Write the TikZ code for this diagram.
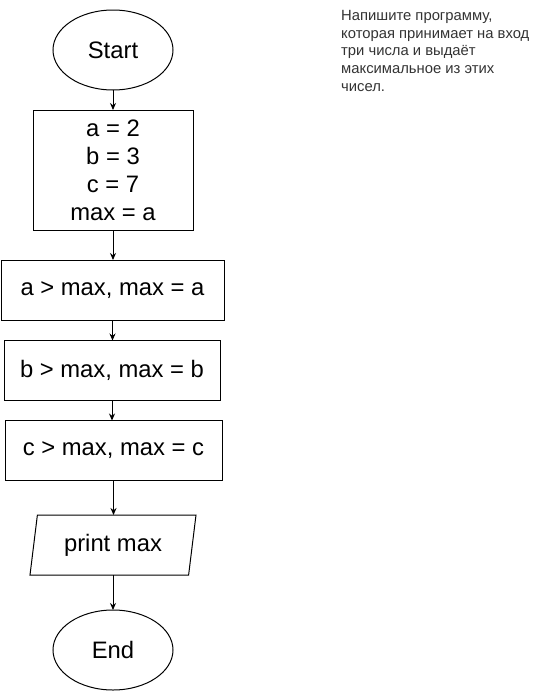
\documentclass[tikz,border=0pt]{standalone}
\usepackage{fontspec}
\setmainfont{Liberation Sans}
\usetikzlibrary{shapes.geometric,arrows.meta}
\definecolor{notegray}{RGB}{51,51,51}
\tikzset{
  blok/.style={draw,line width=1pt,inner sep=0pt,outer sep=0pt,align=center,font=\fontsize{23.8}{28}\selectfont},
  oval/.style={blok,ellipse,minimum width=120pt,minimum height=80pt},
  caixa/.style={blok,rectangle,minimum height=60pt},
  saida/.style={blok,trapezium,trapezium left angle=71.57,trapezium right angle=108.43,
    trapezium stretches body,minimum width=166pt,minimum height=60pt},
  seta/.style={line width=1pt,-{Stealth[length=7pt,width=6pt]}}
}
\begin{document}
\begin{tikzpicture}[x=1pt,y=-1pt]
\useasboundingbox (0,0) rectangle (539,691);
% blocos
\node[oval] (inicio) at(113,50) {Start};
\node[caixa,minimum width=160pt,minimum height=120pt] (vars) at(113,170) {a = 2\\b = 3\\c = 7\\max = a};
\node[caixa,minimum width=223pt] (maxa) at(112.5,290) {a > max, max = a};
\node[caixa,minimum width=216pt] (maxb) at(112,370.5) {b > max, max = b};
\node[caixa,minimum width=217pt] (maxc) at(113.5,450.5) {c > max, max = c};
\node[saida] (imprime) at(113,545) {print max};
\node[oval] (fim) at(113,650) {End};
% setas
\draw[seta] (inicio) -- (vars);
\draw[seta] (vars.south) -- (vars.south |- maxa.north);
\draw[seta] (maxa.south) -- (maxa.south |- maxb.north);
\draw[seta] (maxb.south) -- (maxb.south |- maxc.north);
\draw[seta] (maxc.south) -- (maxc.south |- imprime.north);
\draw[seta] (imprime) -- (fim);
% enunciado
\node[anchor=north west,align=left,inner sep=0pt,text=notegray,font=\fontsize{14.8}{17.75}\selectfont] (enunciado) at(341,10)
  {Напишите программу,\\которая принимает на вход\\три числа и выдаёт\\максимальное из этих\\чисел.};
%\draw (0,0) rectangle(539,691);
\end{tikzpicture}
\end{document}
